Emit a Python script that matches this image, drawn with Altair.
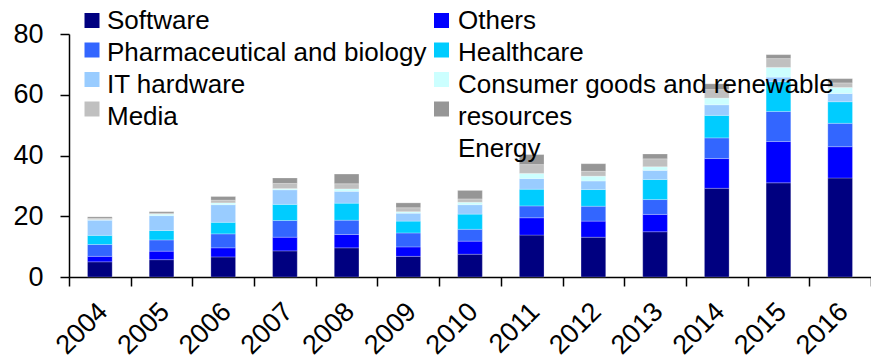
import altair as alt
import pandas as pd

# Annual values by sector (stacked bottom to top in this order)
years = ["2004", "2005", "2006", "2007", "2008", "2009", "2010",
         "2011", "2012", "2013", "2014", "2015", "2016"]
software = [5.0, 5.7, 6.6, 8.6, 9.6, 6.8, 7.5, 13.8, 13.1, 14.9, 29.2, 31.0, 32.6]
others = [1.8, 2.8, 3.0, 4.5, 4.4, 3.1, 4.3, 5.7, 5.3, 5.7, 9.8, 13.6, 10.3]
pharma = [3.9, 3.7, 4.6, 5.5, 4.7, 4.6, 3.9, 3.9, 4.9, 4.9, 6.8, 9.9, 7.7]
healthcare = [3.0, 3.1, 3.8, 5.3, 5.6, 3.9, 5.0, 5.5, 5.5, 6.6, 7.4, 9.8, 7.1]
it_hardware = [5.0, 4.9, 5.8, 4.8, 3.9, 2.6, 3.1, 3.5, 2.8, 3.0, 3.5, 1.5, 2.7]
consumer = [0.2, 0.5, 0.6, 0.4, 0.8, 0.5, 0.8, 1.7, 1.6, 1.2, 2.2, 3.2, 2.0]
media = [0.4, 0.3, 0.9, 1.7, 1.7, 1.3, 1.1, 2.9, 1.6, 2.6, 2.8, 2.9, 1.5]
energy = [0.5, 0.5, 1.2, 1.8, 3.2, 1.6, 2.8, 3.3, 2.5, 1.6, 1.9, 1.3, 1.4]

sectors = ["Software", "Others", "Pharmaceutical and biology", "Healthcare",
           "IT hardware", "Consumer goods and renewable resources", "Media", "Energy"]
colors = ["#000080", "#0000FF", "#3366FF", "#00CCFF",
          "#99CCFF", "#CCFFFF", "#C0C0C0", "#969696"]
series = [software, others, pharma, healthcare, it_hardware, consumer, media, energy]

rows = []
for k, (name, vals) in enumerate(zip(sectors, series)):
    for yr, v in zip(years, vals):
        rows.append({"year": yr, "sector": name, "value": v, "idx": k})
df = pd.DataFrame(rows)

FONT = "Liberation Sans"
PLOT_W, PLOT_H = 802, 243
LEFT, TOP = 69, 34

bars = alt.Chart(df).mark_bar(
    width=alt.RelativeBandSize(0.4), stroke="#ffffff", strokeWidth=0.4, strokeOpacity=0.6
).encode(
    x=alt.X("year:N", sort=years,
            scale=alt.Scale(paddingInner=0, paddingOuter=0),
            axis=alt.Axis(title=None, labelAngle=-45, labelAlign="right",
                          labelBaseline="top", labelFontSize=27, labelFont=FONT,
                          labelColor="black", tickColor="black", domainColor="black",
                          tickSize=9, tickWidth=1.5, domainWidth=1.5,
                          tickBand="extent", labelPadding=12, labelOffset=-6,
                          grid=False)),
    y=alt.Y("value:Q", stack="zero",
            scale=alt.Scale(domain=[0, 80], nice=False),
            axis=alt.Axis(title=None, values=[0, 20, 40, 60, 80], grid=False,
                          labelFontSize=27, labelFont=FONT, labelColor="black",
                          tickColor="black", domainColor="black", tickSize=9,
                          tickWidth=1.5, domainWidth=1.5, labelPadding=17)),
    color=alt.Color("sector:N", scale=alt.Scale(domain=sectors, range=colors), legend=None),
    order=alt.Order("idx:Q", sort="ascending"),
)

# Two-column legend drawn above the bars
one = pd.DataFrame({"k": [0]})
col_sym_x = [92, 441.5]
col_txt_x = [107, 458]
legend_layers = []
# (sector index, column, symbol row, text lines with their rows)
entries = [
    (0, 0, 0, [("Software", 0)]),
    (1, 1, 0, [("Others", 0)]),
    (2, 0, 1, [("Pharmaceutical and biology", 1)]),
    (3, 1, 1, [("Healthcare", 1)]),
    (4, 0, 2, [("IT hardware", 2)]),
    (5, 1, 2, [("Consumer goods and renewable", 2), ("resources", 3)]),
    (6, 0, 3, [("Media", 3)]),
    (7, 1, 3, [("Energy", 4)]),
]
for si, col, srow, lines in entries:
    sy = 20.5 + 29.5 * srow
    legend_layers.append(
        alt.Chart(one).mark_square(size=225, filled=True, opacity=1, color=colors[si]).encode(
            x=alt.value(col_sym_x[col] - LEFT), y=alt.value(sy - TOP))
    )
    for txt, trow in lines:
        ty = 21 + 32 * trow
        legend_layers.append(
            alt.Chart(one).mark_text(align="left", baseline="middle", fontSize=26,
                                     font=FONT, color="black").encode(
                x=alt.value(col_txt_x[col] - LEFT), y=alt.value(ty - TOP),
                text=alt.value(txt))
        )

chart = alt.layer(bars, *legend_layers).properties(
    width=PLOT_W, height=PLOT_H,
    autosize=alt.AutoSizeParams(type="none"),
    padding={"left": LEFT, "top": TOP, "right": 0, "bottom": 361 - TOP - PLOT_H},
    background="white",
).configure_view(stroke=None)

chart.save("out.html", embed_options={"renderer": "svg", "actions": False})
